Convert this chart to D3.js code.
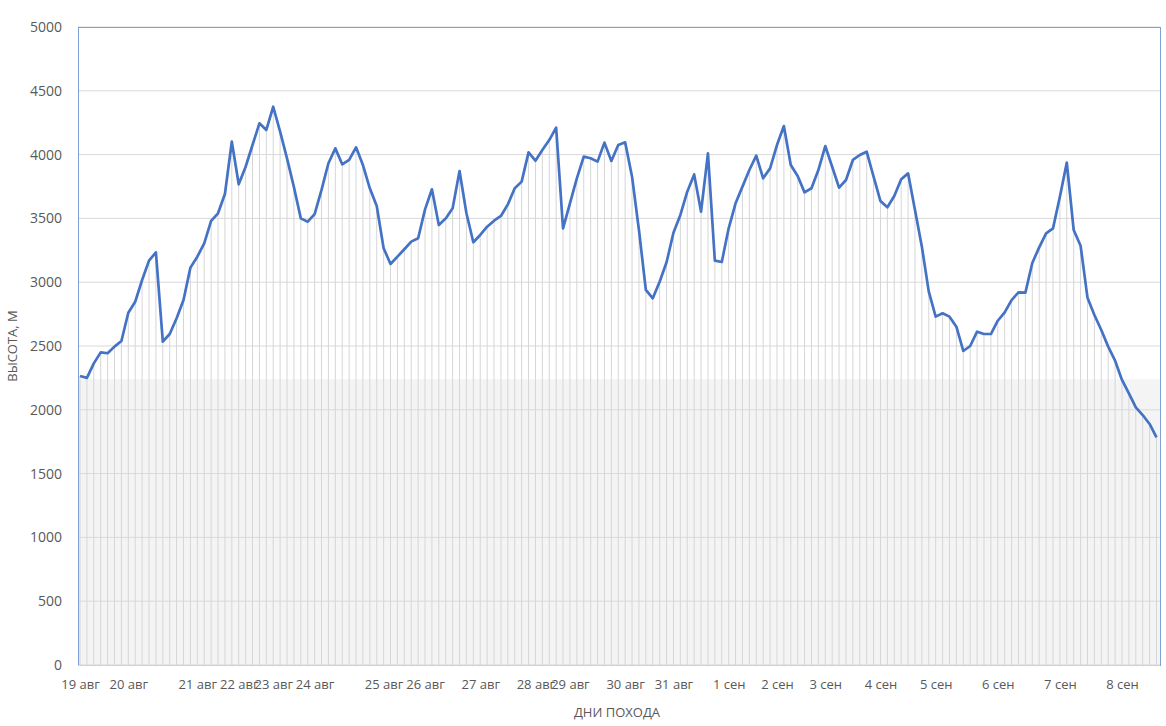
<!DOCTYPE html>
<html><head><meta charset="utf-8">
<script src="https://cdn.jsdelivr.net/npm/d3@7"></script>
<style>body{margin:0;background:#fff}svg{display:block}</style>
</head><body>
<svg id="c" width="1166" height="726"></svg>
<script>
const elevations = [2265,2250,2364,2450,2443,2495,2539,2761,2847,3017,3169,3234,2534,2594,2717,2860,3114,3200,3305,3480,
3540,3691,4101,3767,3905,4075,4245,4193,4375,4180,3971,3745,3500,3474,3534,3723,3932,4049,3924,3958,
4057,3918,3736,3597,3266,3143,3200,3258,3318,3344,3571,3728,3448,3500,3579,3871,3540,3313,3370,3435,
3482,3519,3610,3736,3788,4017,3952,4036,4114,4211,3422,3618,3814,3984,3971,3945,4094,3950,4075,4096,
3827,3409,2939,2874,3004,3156,3388,3527,3709,3845,3553,4010,3169,3158,3422,3618,3749,3879,3992,3814,
3892,4075,4224,3918,3832,3704,3736,3879,4067,3905,3741,3801,3958,3997,4023,3827,3636,3587,3676,3806,
3853,3566,3278,2926,2730,2756,2730,2651,2461,2500,2612,2594,2594,2698,2764,2860,2921,2918,3151,3273,
3383,3422,3670,3937,3409,3286,2879,2743,2625,2495,2385,2234,2129,2019,1959,1889,1784];
const dayLabels = ["19 авг","20 авг","21 авг","22 авг","23 авг","24 авг","25 авг","26 авг","27 авг","28 авг","29 авг",
"30 авг","31 авг","1 сен","2 сен","3 сен","4 сен","5 сен","6 сен","7 сен","8 сен"];
const dayStartIndex = [0,7,17,23,28,34,44,50,58,66,71,79,86,94,101,108,116,124,133,142,151];
const yTicks = [0,500,1000,1500,2000,2500,3000,3500,4000,4500,5000];
const yTitle = "ВЫСОТА, М";
const xTitle = "ДНИ ПОХОДА";
const shadeTop = 2240;

const svg = d3.select("#c");
const L = 78, R = 1160, T = 27, B = 665;
const idx = d3.range(elevations.length);
const x = d3.scalePoint().domain(idx).range([80, 1156.5]);
const y = d3.scaleLinear().domain([0, 5000]).range([B, T]);
const font = "'Open Sans', 'Noto Sans', sans-serif";

svg.append("rect").attr("x", L).attr("y", y(shadeTop)).attr("width", R - L).attr("height", B - y(shadeTop)).attr("fill", "#f4f4f4");

// gridlines
svg.append("g").selectAll("line").data(yTicks).join("line")
  .attr("x1", L).attr("x2", R).attr("y1", d => y(d)).attr("y2", d => y(d))
  .attr("stroke", "#d9d9d9").attr("stroke-width", 1);

// drop lines
svg.append("g").selectAll("line").data(idx).join("line")
  .attr("x1", i => x(i)).attr("x2", i => x(i))
  .attr("y1", i => y(elevations[i])).attr("y2", B)
  .attr("stroke", "#d6d6d6").attr("stroke-width", 1);

// frame
svg.append("rect").attr("x", L + 0.5).attr("y", T + 0.5).attr("width", R - L).attr("height", B - T)
  .attr("fill", "none").attr("stroke", "#7f9fd8").attr("stroke-width", 1);
svg.append("line").attr("x1", L).attr("x2", R).attr("y1", B + 0.5).attr("y2", B + 0.5).attr("stroke", "#d0d0d0");

// line
svg.append("path").datum(idx)
  .attr("d", d3.line().x(i => x(i)).y(i => y(elevations[i])))
  .attr("fill", "none").attr("stroke", "#4472c4").attr("stroke-width", 2.7).attr("stroke-linejoin", "round");

// y axis
const yAxis = d3.axisLeft(y).tickValues(yTicks).tickFormat(d3.format("d")).tickSize(0).tickPadding(0);
const gy = svg.append("g").attr("transform", `translate(62,0)`).call(yAxis);
gy.select(".domain").remove();
gy.selectAll("text").attr("font-family", font).attr("font-size", 14).attr("fill", "#595959");

// x axis labels
const xAxis = d3.axisBottom(x).tickValues(dayStartIndex).tickFormat(i => dayLabels[dayStartIndex.indexOf(i)]).tickSize(0).tickPadding(0);
const gx = svg.append("g").attr("transform", `translate(0,680)`).call(xAxis);
gx.select(".domain").remove();
gx.selectAll("text").attr("font-family", font).attr("font-size", 13).attr("fill", "#595959");

svg.append("text").attr("transform", `translate(17,${(T + B) / 2}) rotate(-90)`)
  .attr("text-anchor", "middle").attr("font-family", font).attr("font-size", 13).attr("fill", "#595959").text(yTitle);
svg.append("text").attr("x", 617).attr("y", 717).attr("text-anchor", "middle")
  .attr("font-family", font).attr("font-size", 13).attr("fill", "#595959").text(xTitle);
</script>
</body></html>
